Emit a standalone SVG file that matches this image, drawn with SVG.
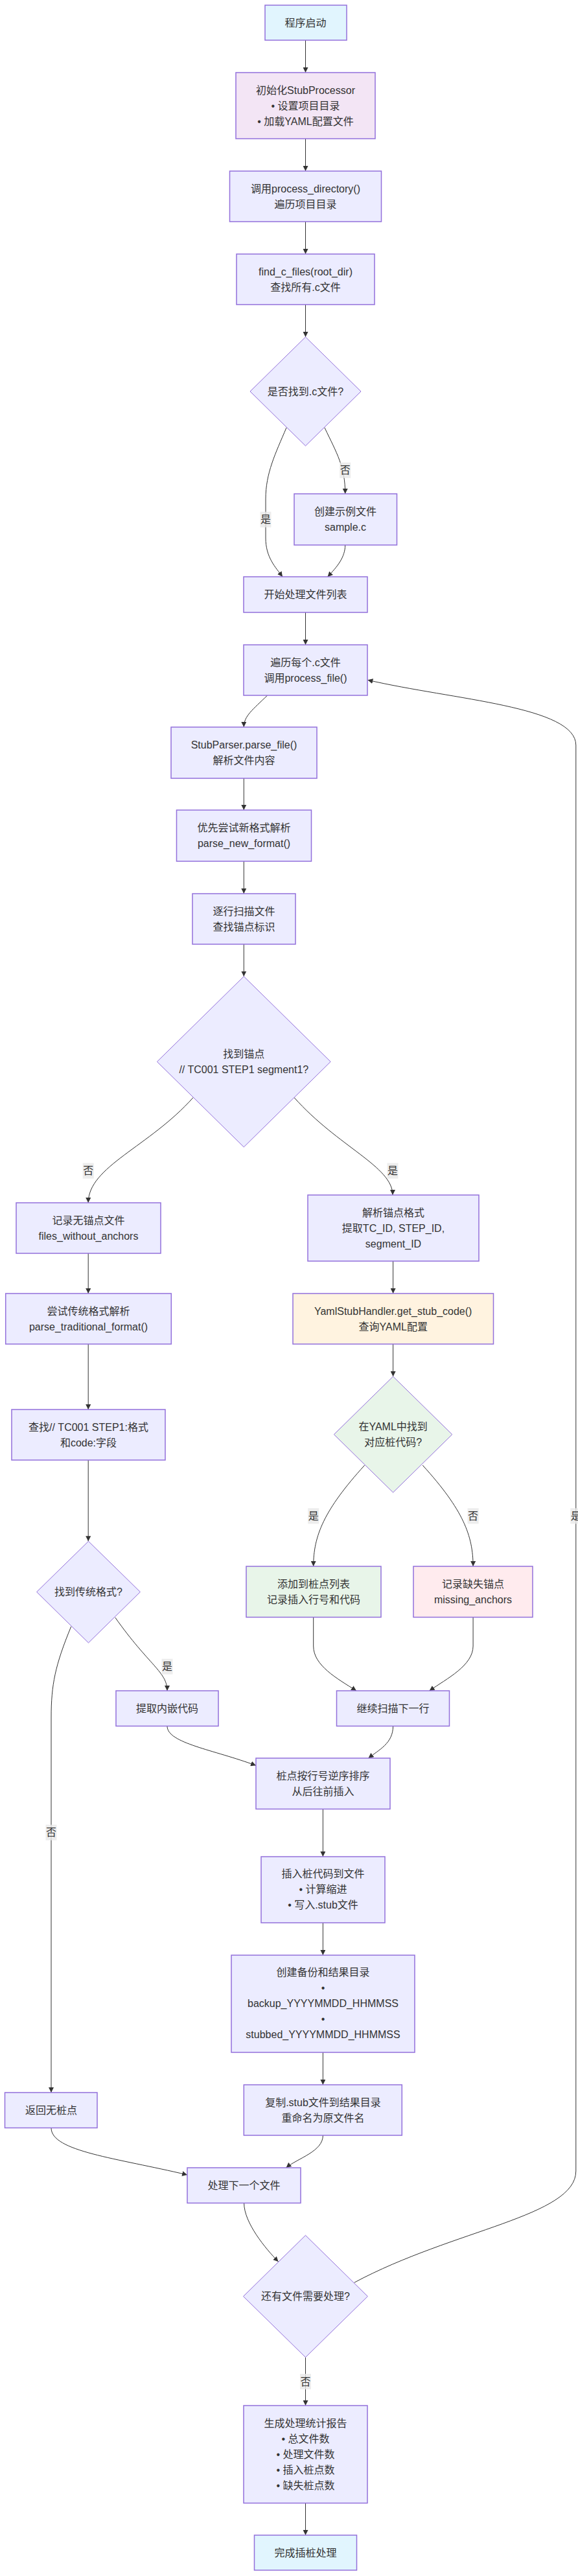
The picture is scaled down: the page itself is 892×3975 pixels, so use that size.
<svg xmlns="http://www.w3.org/2000/svg" width="892" height="3975" viewBox="0 0 892 3975">
<defs>
<style>
.n rect,.n polygon{fill:#ECECFF;stroke:#9370DB;}
.n rect{stroke-width:1.5;}
.n polygon{stroke-width:1;}
.n text,.lbl text{font-family:"Liberation Sans","Noto Sans CJK SC",sans-serif;font-size:16px;fill:#333;text-anchor:middle;dominant-baseline:central;}
.e path{fill:none;stroke:#333;stroke-width:1;marker-end:url(#arr);}
.lbl rect{fill:#e8e8e8;opacity:0.8;}
.start rect{fill:#e1f5fe;}
.init rect{fill:#f3e5f5;}
.yaml rect{fill:#fff3e0;}
.green rect,.green polygon{fill:#e8f5e9;}
.pink rect{fill:#ffebee;}
</style>
<marker id="arr" viewBox="0 0 10 10" refX="10" refY="5" markerUnits="userSpaceOnUse" markerWidth="8" markerHeight="8" orient="auto">
<path d="M0,0 L10,5 L0,10 z" fill="#333"/>
</marker>
</defs>
<rect width="892" height="3975" fill="#fff"/>

<g id="edges" class="e">
<path d="M471.5,62 L471.5,112"/>
<path d="M471.5,214 L471.5,264"/>
<path d="M471.5,342 L471.5,392"/>
<path d="M471.5,470 L471.5,520"/>
<path d="M442,660 C425,700 410,730 410,770 L410,830 C410,860 425,875 436,890"/>
<path d="M501,660 C520,700 532.7,720 532.7,762"/>
<path d="M532.7,841 C532.7,860 520,875 505.6,890"/>
<path d="M471.5,945 L471.5,995"/>
<path d="M412.7,1073 C390,1095 376.3,1105 376.3,1122"/>
<path d="M376.3,1201 L376.3,1250"/>
<path d="M376.3,1329 L376.3,1379"/>
<path d="M376.3,1457 L376.3,1506.7"/>
<path d="M298.4,1693.3 C230,1770 136.2,1800 136.2,1856"/>
<path d="M453.7,1693.3 C522,1770 606,1800 606,1844"/>
<path d="M136.2,1934 L136.2,1996"/>
<path d="M606.6,1946 L606.6,1996"/>
<path d="M136.2,2074 L136.2,2175"/>
<path d="M606.6,2074 L606.6,2124"/>
<path d="M136.2,2253 L136.2,2378.3"/>
<path d="M562.7,2261 C500,2330 483.7,2370 483.7,2417"/>
<path d="M652.2,2261 C715,2330 730.1,2370 730.1,2417"/>
<path d="M177.8,2496 C230,2570 258,2580 258,2609"/>
<path d="M109.7,2510 C85,2570 79,2600 79,2650 L79,3229"/>
<path d="M483.7,2495.5 L483.7,2540 C483.7,2570 520,2590 550,2609"/>
<path d="M730.1,2495.5 L730.1,2540 C730.1,2570 690,2590 662.6,2609"/>
<path d="M258,2663.5 C258,2690 330,2700 395,2724.3"/>
<path d="M606.6,2663.5 C606.6,2690 585,2700 568.5,2713"/>
<path d="M498.4,2791.5 L498.4,2865"/>
<path d="M498.4,2967 L498.4,3017"/>
<path d="M498.4,3167 L498.4,3217"/>
<path d="M79,3283.5 C79,3320 180,3330 289,3356"/>
<path d="M498.4,3295 C498.4,3320 460,3330 441.5,3345"/>
<path d="M376.6,3399.5 C376.6,3430 410,3470 429.5,3490"/>
<path d="M546.6,3522.3 C700,3440 888.8,3420 888.8,3350 L888.8,1150 C888.8,1090 700,1080 567.4,1049.3"/>
<path d="M471.5,3637.5 L471.5,3712"/>
<path d="M471.5,3862.5 L471.5,3912"/>
</g>

<g id="edge-labels" class="lbl">
<g><rect x="401.5" y="789.7" width="17" height="24"/><text x="410" y="801.7">是</text></g>
<g><rect x="524.2" y="713.7" width="17" height="24"/><text x="532.7" y="725.7">否</text></g>
<g><rect x="127.7" y="1794.7" width="17" height="24"/><text x="136.2" y="1806.7">否</text></g>
<g><rect x="597.5" y="1794.7" width="17" height="24"/><text x="606" y="1806.7">是</text></g>
<g><rect x="475.2" y="2327.3" width="17" height="24"/><text x="483.7" y="2339.3">是</text></g>
<g><rect x="721.6" y="2327.3" width="17" height="24"/><text x="730.1" y="2339.3">否</text></g>
<g><rect x="880.3" y="2327.3" width="17" height="24"/><text x="888.8" y="2339.3">是</text></g>
<g><rect x="249.5" y="2559.7" width="17" height="24"/><text x="258" y="2571.7">是</text></g>
<g><rect x="70.5" y="2815.7" width="17" height="24"/><text x="79" y="2827.7">否</text></g>
<g><rect x="463" y="3663" width="17" height="24"/><text x="471.5" y="3675">否</text></g>
</g>

<g id="n1" class="n start"><rect x="409" y="8" width="126" height="54"/><text x="471.5" y="35">程序启动</text></g>
<g id="n2" class="n init"><rect x="364" y="112" width="215" height="102"/><text x="471.5" y="139">初始化StubProcessor</text><text x="471.5" y="163">• 设置项目目录</text><text x="471.5" y="187">• 加载YAML配置文件</text></g>
<g id="n3" class="n"><rect x="354.5" y="264" width="234" height="78"/><text x="471.5" y="291">调用process_directory()</text><text x="471.5" y="315">遍历项目目录</text></g>
<g id="n4" class="n"><rect x="365" y="392" width="213" height="78"/><text x="471.5" y="419">find_c_files(root_dir)</text><text x="471.5" y="443">查找所有.c文件</text></g>
<g id="n5" class="n"><polygon points="471.5,520 557,604 471.5,688 386,604"/><text x="471.5" y="604">是否找到.c文件?</text></g>
<g id="n6" class="n"><rect x="454" y="762" width="158.5" height="79"/><text x="533" y="789.5">创建示例文件</text><text x="533" y="813.5">sample.c</text></g>
<g id="n7" class="n"><rect x="376" y="890" width="191" height="55"/><text x="471.5" y="917.5">开始处理文件列表</text></g>
<g id="n8" class="n"><rect x="376" y="995" width="191" height="78"/><text x="471.5" y="1022">遍历每个.c文件</text><text x="471.5" y="1046">调用process_file()</text></g>
<g id="n9" class="n"><rect x="264" y="1122" width="225" height="79"/><text x="376.5" y="1149.5">StubParser.parse_file()</text><text x="376.5" y="1173.5">解析文件内容</text></g>
<g id="n10" class="n"><rect x="272.5" y="1250" width="208" height="79"/><text x="376.5" y="1277.5">优先尝试新格式解析</text><text x="376.5" y="1301.5">parse_new_format()</text></g>
<g id="n11" class="n"><rect x="297" y="1379" width="159" height="78"/><text x="376.5" y="1406">逐行扫描文件</text><text x="376.5" y="1430">查找锚点标识</text></g>
<g id="n12" class="n"><polygon points="376.3,1506.7 510.2,1638.3 376.3,1770 242.4,1638.3"/><text x="376.3" y="1626">找到锚点</text><text x="376.3" y="1650">// TC001 STEP1 segment1?</text></g>
<g id="n13" class="n"><rect x="25" y="1856" width="223" height="78"/><text x="136.5" y="1883">记录无锚点文件</text><text x="136.5" y="1907">files_without_anchors</text></g>
<g id="n14" class="n"><rect x="475" y="1844" width="264" height="102"/><text x="607" y="1871">解析锚点格式</text><text x="607" y="1895">提取TC_ID, STEP_ID,</text><text x="607" y="1919">segment_ID</text></g>
<g id="n15" class="n"><rect x="8.7" y="1996" width="255.6" height="78"/><text x="136.5" y="2023">尝试传统格式解析</text><text x="136.5" y="2047">parse_traditional_format()</text></g>
<g id="n16" class="n yaml"><rect x="452" y="1996" width="309.5" height="78"/><text x="606.7" y="2023">YamlStubHandler.get_stub_code()</text><text x="606.7" y="2047">查询YAML配置</text></g>
<g id="n17" class="n"><rect x="18" y="2175" width="237" height="78"/><text x="136.5" y="2202">查找// TC001 STEP1:格式</text><text x="136.5" y="2226">和code:字段</text></g>
<g id="n18" class="n green"><polygon points="606.6,2124 697.8,2213.5 606.6,2303 515.4,2213.5"/><text x="606.6" y="2201.5">在YAML中找到</text><text x="606.6" y="2225.5">对应桩代码?</text></g>
<g id="n19" class="n"><polygon points="136.5,2378.3 216.4,2456.5 136.5,2535 56.6,2456.5"/><text x="136.5" y="2456.5">找到传统格式?</text></g>
<g id="n20" class="n green"><rect x="380" y="2417" width="208" height="78.5"/><text x="484" y="2444.5">添加到桩点列表</text><text x="484" y="2468.5">记录插入行号和代码</text></g>
<g id="n21" class="n pink"><rect x="638" y="2417" width="184" height="78.5"/><text x="730" y="2444.5">记录缺失锚点</text><text x="730" y="2468.5">missing_anchors</text></g>
<g id="n22" class="n"><rect x="179" y="2609" width="158" height="54.5"/><text x="258" y="2636">提取内嵌代码</text></g>
<g id="n23" class="n"><rect x="519.5" y="2609" width="174" height="54.5"/><text x="606.5" y="2636">继续扫描下一行</text></g>
<g id="n24" class="n"><rect x="395" y="2713" width="207" height="78.5"/><text x="498.5" y="2740">桩点按行号逆序排序</text><text x="498.5" y="2764">从后往前插入</text></g>
<g id="n25" class="n"><rect x="403" y="2865" width="191" height="102"/><text x="498.5" y="2891.5">插入桩代码到文件</text><text x="498.5" y="2915.5">• 计算缩进</text><text x="498.5" y="2939.5">• 写入.stub文件</text></g>
<g id="n26" class="n"><rect x="357" y="3017" width="283" height="150"/><text x="498.5" y="3043.5">创建备份和结果目录</text><text x="498.5" y="3067.5">•</text><text x="498.5" y="3091.5">backup_YYYYMMDD_HHMMSS</text><text x="498.5" y="3115.5">•</text><text x="498.5" y="3139.5">stubbed_YYYYMMDD_HHMMSS</text></g>
<g id="n27" class="n"><rect x="376.3" y="3217" width="244" height="78"/><text x="498.5" y="3244">复制.stub文件到结果目录</text><text x="498.5" y="3268">重命名为原文件名</text></g>
<g id="n28" class="n"><rect x="7.5" y="3229" width="142.5" height="54.5"/><text x="79" y="3256">返回无桩点</text></g>
<g id="n29" class="n"><rect x="289" y="3345" width="175" height="54.5"/><text x="376.5" y="3372">处理下一个文件</text></g>
<g id="n30" class="n"><polygon points="471.5,3449.3 567.4,3543.5 471.5,3637.5 375.5,3543.5"/><text x="471.5" y="3543.5">还有文件需要处理?</text></g>
<g id="n31" class="n"><rect x="376" y="3712" width="191" height="150.5"/><text x="471.5" y="3739">生成处理统计报告</text><text x="471.5" y="3763">• 总文件数</text><text x="471.5" y="3787">• 处理文件数</text><text x="471.5" y="3811">• 插入桩点数</text><text x="471.5" y="3835">• 缺失桩点数</text></g>
<g id="n32" class="n start"><rect x="392.5" y="3912" width="158" height="54"/><text x="471.5" y="3939">完成插桩处理</text></g>
</svg>
